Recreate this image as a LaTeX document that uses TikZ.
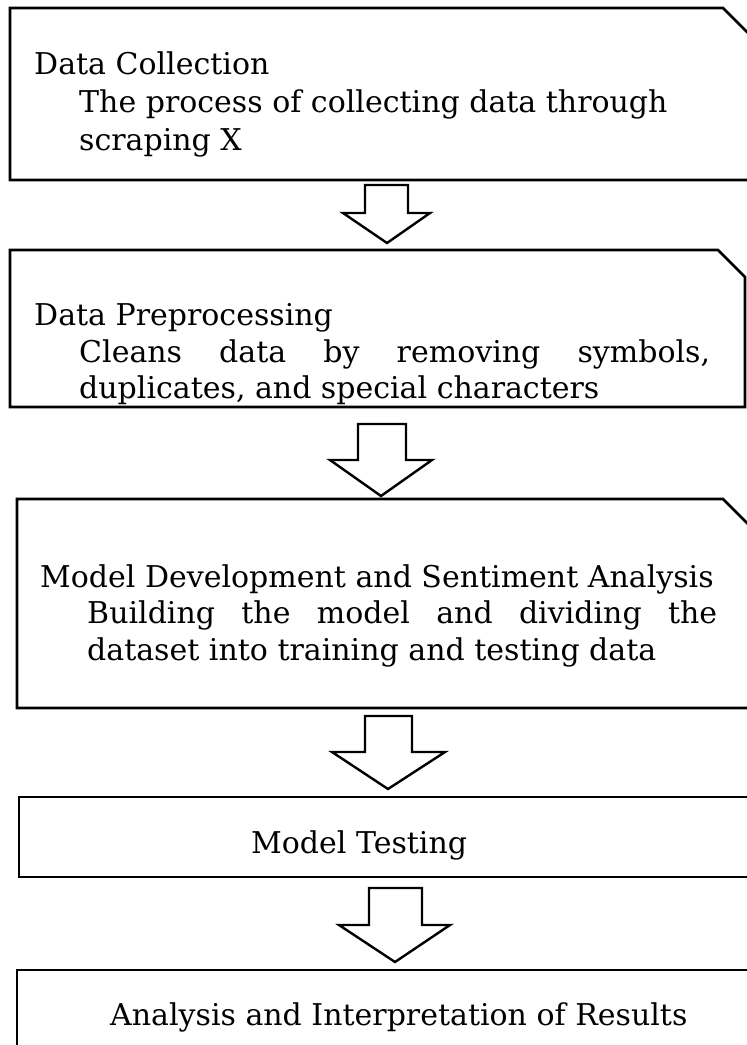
\documentclass[tikz,border=0pt]{standalone}
\usepackage{fontspec}
\setmainfont{DejaVu Serif}
\begin{document}
\tikzset{
  boxline/.style={line width=2.8pt, line join=miter},
  blockarrow/.style={line width=2.4pt, line join=miter, fill=white},
  lbl/.style={anchor=base west, inner sep=0pt, font=\fontsize{30}{36}\selectfont}
}
\begin{tikzpicture}[x=1pt,y=-1pt]
\useasboundingbox (0,0) rectangle (747,1045);
% boxes
\draw[boxline] (10,8) coordinate (b1) -- (723,8) -- (753,38) -- (753,180) -- (10,180) -- cycle;
\draw[boxline] (10,250) coordinate (b2) -- (718,250) -- (745,277) -- (745,407) -- (10,407) -- cycle;
\draw[boxline] (17,499) coordinate (b3) -- (723,499) -- (753,529) -- (753,708) -- (17,708) -- cycle;
\draw[boxline] (19,797) coordinate (b4) rectangle (765,877);
\draw[boxline] (17,970) coordinate (b5) rectangle (765,1070);
% texts
\node[lbl] (t1a) at (34,74) {Data Collection};
\node[lbl] (t1b) at (79,112) {The process of collecting data through};
\node[lbl] (t1c) at (79,150) {scraping X};
\node[lbl] (t2a) at (34,325) {Data Preprocessing};
\node[lbl] (t2b) at (79,362) {\makebox[631pt][s]{Cleans data by removing symbols,}};
\node[lbl] (t2c) at (79,398) {duplicates, and special characters};
\node[lbl] (t3a) at (40,587) {Model Development and Sentiment Analysis};
\node[lbl] (t3b) at (87,623) {\makebox[630pt][s]{Building the model and dividing the}};
\node[lbl] (t3c) at (87,660) {dataset into training and testing data};
\node[lbl] (t4) at (251,853) {Model Testing};
\node[lbl] (t5) at (110,1025) {Analysis and Interpretation of Results};
% block arrows
\draw[blockarrow] (365,185) -- (408,185) -- (408,213) -- (430,213) -- (387,243) -- (343,213) -- (365,213) -- cycle;
\draw[blockarrow] (358,424) -- (406,424) -- (406,460) -- (432,460) -- (381,496) -- (330,460) -- (358,460) -- cycle;
\draw[blockarrow] (365,716) -- (412,716) -- (412,752) -- (445,752) -- (388,789) -- (332,752) -- (365,752) -- cycle;
\draw[blockarrow] (369,888) -- (422,888) -- (422,925) -- (450,925) -- (395,962) -- (339,925) -- (369,925) -- cycle;
\end{tikzpicture}
\end{document}
